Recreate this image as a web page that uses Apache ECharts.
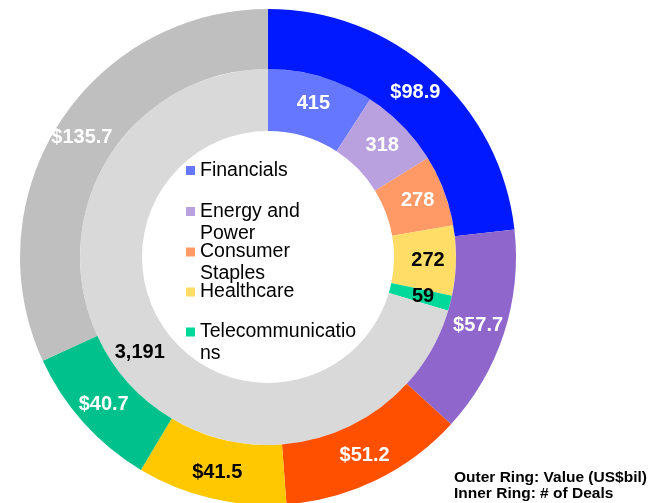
<!DOCTYPE html>
<html>
<head>
<meta charset="utf-8">
<script src="https://cdn.jsdelivr.net/npm/echarts@6/dist/echarts.min.js"></script>
<style>
  html, body { margin: 0; padding: 0; background: #fff; }
  #main { width: 653px; height: 503px; }
</style>
</head>
<body>
<div id="main"></div>
<script>
// data
var categories = ["Financials", "Energy and Power", "Consumer Staples", "Healthcare", "Telecommunications", "Other"];
var outerValues = [98.9, 57.7, 51.2, 41.5, 40.7, 135.7];   // value, US$bil
var innerValues = [415, 318, 278, 272, 59, 3191];          // number of deals
var legendLabels = ["Financials", "Energy and\nPower", "Consumer\nStaples", "Healthcare", "Telecommunicatio\nns"];

// styles
var outerColors = ["#0019FF", "#8F66CC", "#FF5000", "#FFC800", "#00C08B", "#BFBFBF"];
var innerColors = ["#6677FF", "#B9A1E0", "#FF9966", "#FFDD66", "#00D99A", "#D9D9D9"];
var outerLabelColors = ["#fff", "#fff", "#fff", "#000", "#fff", "#fff"];
var innerLabelColors = ["#fff", "#fff", "#fff", "#000", "#000", "#000"];

var font = "Liberation Sans, Arial, sans-serif";
var myChart = echarts.init(document.getElementById("main"));

function buildData(values, colors, labelColors) {
  return values.map(function (v, i) {
    return {
      name: categories[i],
      value: v,
      itemStyle: { color: colors[i] },
      label: { color: labelColors[i] }
    };
  });
}

// one legend per entry so each sits in its own slot;
// wrapped names get an empty first line so the icon lines up with the first text line
var legendCenters = [170.5, 211.5, 252, 292, 332];
var legends = legendLabels.map(function (lbl, i) {
  var wrapped = lbl.indexOf("\n") >= 0;
  var txt = wrapped ? "\n" + lbl : lbl;
  return {
    data: [categories[i]],
    left: 186,
    top: legendCenters[i] - (wrapped ? 33 : 11),
    padding: 0,
    itemWidth: 9,
    itemHeight: 9,
    icon: "rect",
    selectedMode: false,
    formatter: function () { return txt; },
    textStyle: {
      fontFamily: font,
      fontSize: 19.5,
      lineHeight: 22,
      color: "#000"
    }
  };
});

var option = {
  animation: false,
  title: {
    text: "Outer Ring: Value (US$bil)\nInner Ring: # of Deals",
    left: 454,
    top: 470,
    padding: 0,
    textStyle: {
      fontFamily: font,
      fontSize: 15.5,
      lineHeight: 16,
      fontWeight: "bold",
      color: "#000"
    }
  },
  legend: legends,
  series: [
    {
      // inner ring first so the legend takes its colours
      name: "Deals",
      type: "pie",
      center: [268, 257],
      radius: [126, 188],
      startAngle: 90,
      clockwise: true,
      itemStyle: { borderWidth: 0 },
      label: {
        show: true,
        position: "inside",
        fontFamily: font,
        fontSize: 20,
        fontWeight: "bold",
        formatter: function (p) { return echarts.format.addCommas(p.value); }
      },
      labelLine: { show: false },
      emphasis: { disabled: true },
      data: buildData(innerValues, innerColors, innerLabelColors)
    },
    {
      name: "Value",
      type: "pie",
      center: [268, 257],
      radius: [188, 248],
      startAngle: 90,
      clockwise: true,
      itemStyle: { borderWidth: 0 },
      label: {
        show: true,
        position: "inside",
        fontFamily: font,
        fontSize: 20,
        fontWeight: "bold",
        formatter: function (p) { return "$" + p.value; }
      },
      labelLine: { show: false },
      emphasis: { disabled: true },
      data: buildData(outerValues, outerColors, outerLabelColors)
    }
  ]
};

myChart.setOption(option);
</script>
</body>
</html>
